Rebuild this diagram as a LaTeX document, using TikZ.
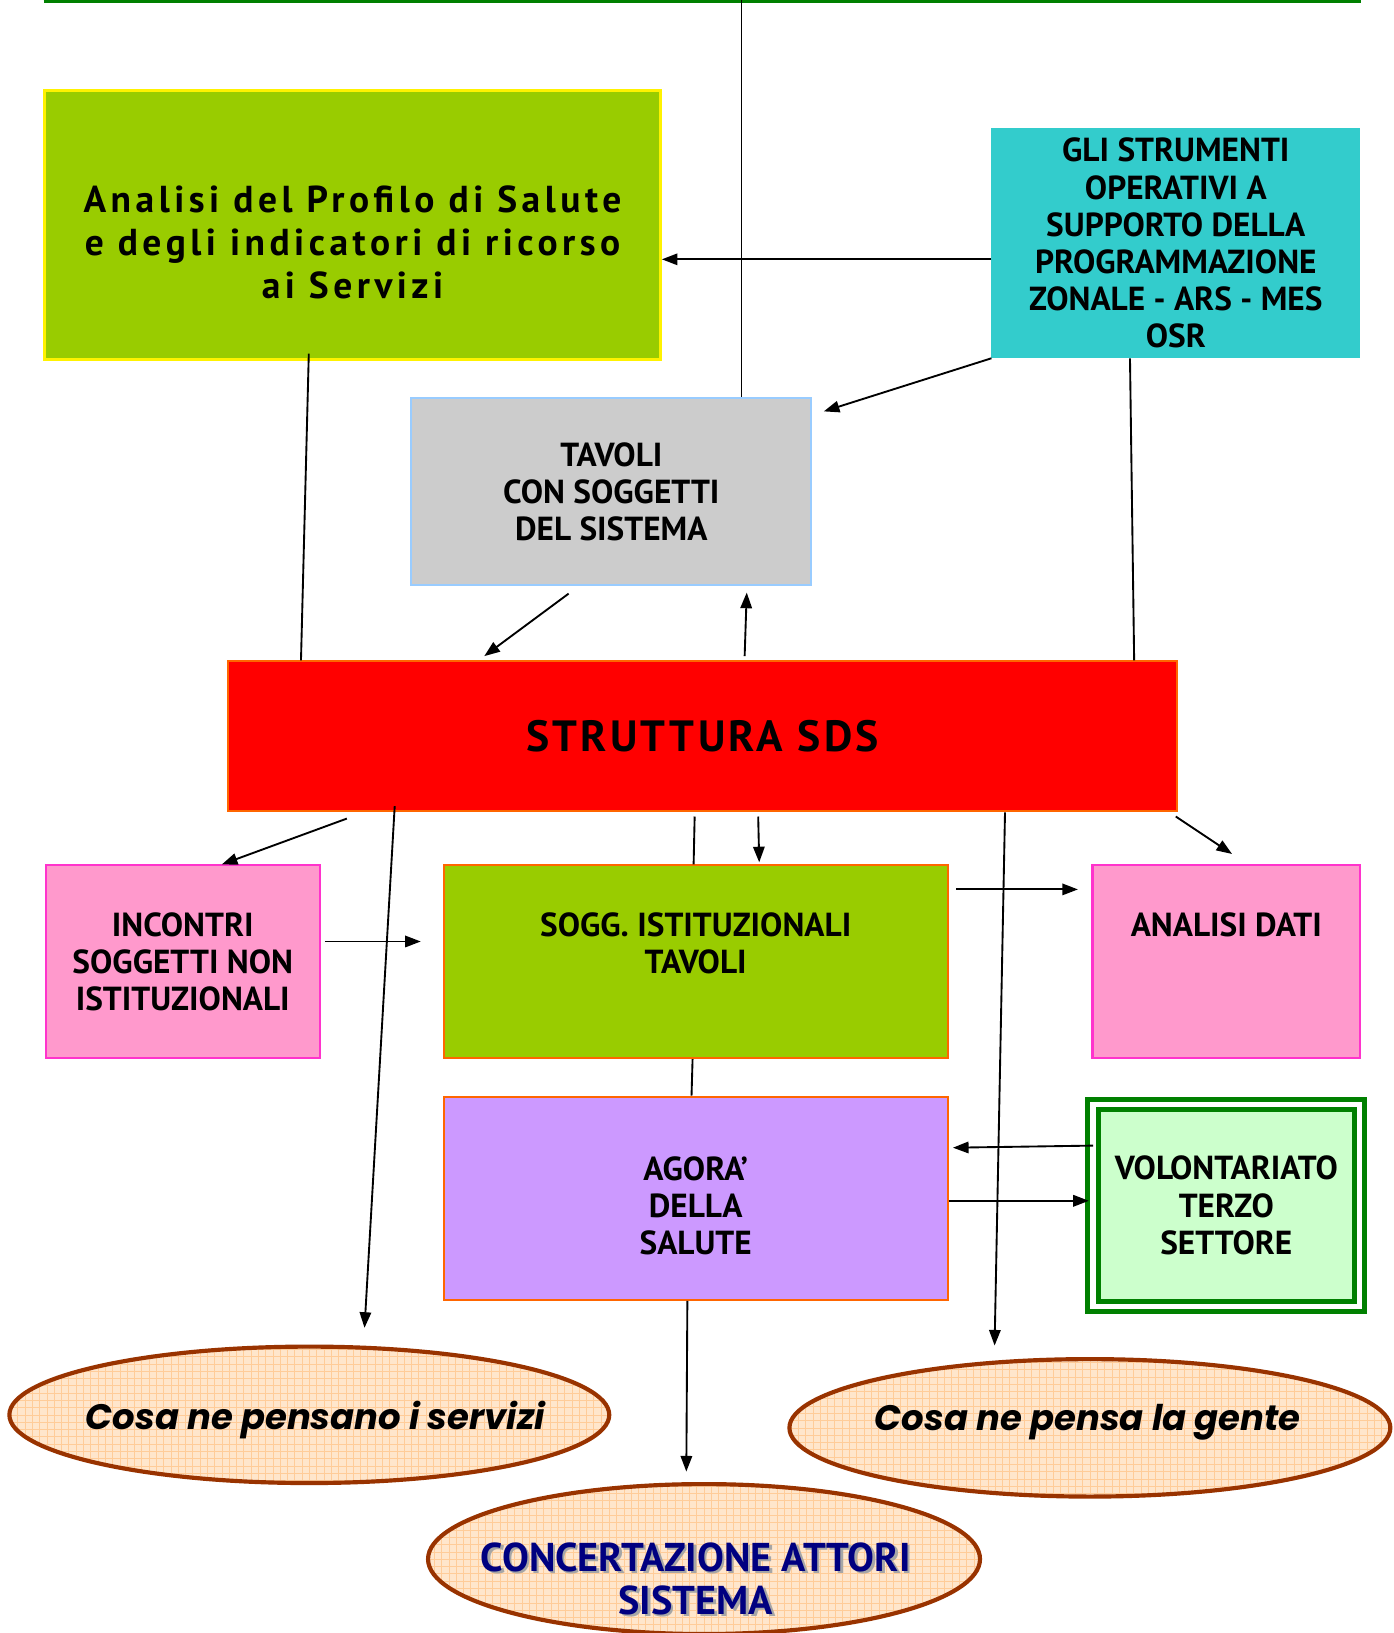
\documentclass[tikz,border=0pt]{standalone}
\usepackage{fontspec}
\setmainfont{PT Sans}
\newfontfamily\widefont{PT Sans}[LetterSpace=12]
\newfontfamily\sdsfont{PT Sans}[LetterSpace=7.5]
\newfontfamily\ellfont{Poppins}
\usetikzlibrary{arrows.meta,shapes.geometric}

\definecolor{rulegreen}{HTML}{008000}
\definecolor{leafgreen}{HTML}{99CC00}
\definecolor{strumcyan}{HTML}{33CCCC}
\definecolor{tavgrey}{HTML}{CCCCCC}
\definecolor{tavblue}{HTML}{99CCFF}
\definecolor{sdsred}{HTML}{FF0000}
\definecolor{edgeorange}{HTML}{FF6600}
\definecolor{pinkfill}{HTML}{FF99CC}
\definecolor{pinkedge}{HTML}{FF33CC}
\definecolor{agoralilac}{HTML}{CC99FF}
\definecolor{volfill}{HTML}{CCFFCC}
\definecolor{peach}{HTML}{FFE6CC}
\definecolor{peachgrid}{HTML}{FFCC99}
\definecolor{brownedge}{HTML}{993300}
\definecolor{navytext}{HTML}{000080}

\newcommand\boxfont{\bfseries\fontsize{32}{35.7}\selectfont}
\newcommand\dropshadow[1]{\leavevmode\rlap{\hspace{2.5pt}\raisebox{-2.5pt}{\textcolor{gray!70}{#1}}}#1}

\tikzset{
  box/.style={rectangle, inner sep=0pt, align=center, line width=2pt, font=\boxfont},
  bubble/.style={ellipse, inner sep=0pt, fill=peach, draw=brownedge, line width=4pt,
    path picture={\draw[peachgrid, line width=0.5pt]
      (path picture bounding box.south west) grid[step=7pt] (path picture bounding box.north east);}},
  bubbletext/.style={font=\ellfont\bfseries\itshape\fontsize{34}{40}\selectfont},
  concerttext/.style={align=center, text=navytext, font=\bfseries\fontsize{38.6}{41}\selectfont},
}

\begin{document}
\begin{tikzpicture}[x=1pt,y=-1pt,>={Triangle[length=15pt,width=11pt]},line width=1.8pt]
\useasboundingbox (0,0) rectangle (1338,1568);

% top rule
\draw[rulegreen,line width=3pt] (42,1.5) -- (1307,1.5);
\coordinate (rulemid) at (712,0);

% boxes
\node[box,fill=leafgreen,draw=yellow,line width=3pt,minimum width=591pt,minimum height=258pt,
  font=\widefont\bfseries\fontsize{36}{41.5}\selectfont] (analisi) at (338.5,216)
  {\mbox{}\\[18pt]Analisi del Profilo di Salute\\e degli indicatori di ricorso\\ai Servizi};
\node[box,fill=strumcyan,draw=strumcyan,minimum width=352pt,minimum height=219pt] (strum) at (1129,233.5)
  {GLI STRUMENTI\\OPERATIVI A\\SUPPORTO DELLA\\PROGRAMMAZIONE\\ZONALE - ARS - MES\\OSR};
\node[box,fill=tavgrey,draw=tavblue,minimum width=384pt,minimum height=180pt] (tavoli) at (587,472)
  {TAVOLI\\CON SOGGETTI\\DEL SISTEMA};
\node[box,fill=sdsred,draw=edgeorange,minimum width=911pt,minimum height=144pt,
  font=\sdsfont\bfseries\fontsize{42}{48}\selectfont] (sds) at (674.5,707) {STRUTTURA SDS};
\node[box,fill=pinkfill,draw=pinkedge,minimum width=263pt,minimum height=185pt] (incontri) at (175.5,923.5)
  {INCONTRI\\SOGGETTI NON\\ISTITUZIONALI};
\node[box,fill=leafgreen,draw=edgeorange,minimum width=484pt,minimum height=185pt] (sogg) at (668,923.5)
  {SOGG. ISTITUZIONALI\\TAVOLI\\\mbox{}};
\node[box,fill=pinkfill,draw=pinkedge,minimum width=257pt,minimum height=185pt] (dati) at (1177.5,923.5)
  {ANALISI DATI\\\mbox{}\\\mbox{}};
\node[box,fill=agoralilac,draw=edgeorange,minimum width=484pt,minimum height=195pt] (agora) at (668,1150.5)
  {\mbox{}\\[1.3pt]AGORA’\\DELLA\\SALUTE};
\node[box,fill=volfill,draw=rulegreen,double=white,line width=5pt,double distance=5pt,
  minimum width=256pt,minimum height=194pt] (volont) at (1177.5,1157.5)
  {VOLONTARIATO\\TERZO\\SETTORE};

% ellipses
\node[bubble,minimum width=576pt,minimum height=131pt,
  label={[bubbletext,yshift=-5pt,xshift=6pt]center:Cosa ne pensano i servizi}] (servizi) at (297,1358.5) {};
\node[bubble,minimum width=577pt,minimum height=132pt,
  label={[bubbletext,yshift=5pt,xshift=-2pt]center:Cosa ne pensa la gente}] (gente) at (1046.5,1371) {};
\node[bubble,minimum width=530pt,minimum height=144pt] (concert) at (676,1497) {};
\node[concerttext] (concertlbl) at ([xshift=-8pt,yshift=-20pt]concert.center)
  {\dropshadow{CONCERTAZIONE ATTORI}\\\dropshadow{SISTEMA}};

% connectors
\draw (rulemid) -- (rulemid |- tavoli.north);
\draw[->] ([yshift=-15.5pt]strum.west) -- ([yshift=-15.5pt]strum.west -| analisi.east);
\draw[->] (strum.south west) -- ([xshift=11pt,yshift=-14pt]tavoli.north east);
\draw ([xshift=-44pt]strum.south) -- ([xshift=-42pt]sds.north east);
\draw ([xshift=-42pt,yshift=7pt]analisi.south) -- ([xshift=71pt]sds.north west);
\draw[->] ([xshift=-41pt,yshift=-7pt]tavoli.south) -- ([xshift=247pt,yshift=4pt]sds.north west);
\draw[->] ([xshift=40.5pt,yshift=4pt]sds.north) -- ([xshift=-63pt,yshift=-6pt]tavoli.south east);
\draw[->] ([xshift=115pt,yshift=-6pt]sds.south west) -- ([xshift=37.5pt]incontri.north);
\draw[->] ([xshift=161pt,yshift=6pt]sds.south west) -- ([xshift=53pt,yshift=16pt]servizi.north);
\draw ([xshift=-7.5pt,yshift=-4pt]sds.south) -- ([xshift=-2pt]sogg.north);
\draw[->] ([xshift=53.5pt,yshift=-4pt]sds.south) -- ([xshift=61pt,yshift=2pt]sogg.north);
\draw[->] ([xshift=290.5pt]sds.south) -- ([xshift=-91.5pt,yshift=11pt]gente.north);
\draw[->] ([xshift=-2pt,yshift=-4pt]sds.south east) -- ([xshift=5.5pt,yshift=10pt]dati.north);
\draw[->] ([xshift=4pt,yshift=19.5pt]incontri.east) -- ([xshift=-21pt,yshift=19.5pt]sogg.west);
\draw[->] ([xshift=7pt,yshift=69.5pt]sogg.east) -- ([xshift=-13pt,yshift=69.5pt]dati.west);
\draw ([xshift=-3pt]sogg.south) -- ([xshift=-4pt]agora.north);
\draw[->] ([xshift=2.5pt,yshift=57.5pt]volont.west) -- ([xshift=4pt,yshift=48.5pt]agora.east);
\draw[->] ([yshift=-2.5pt]agora.east) -- ([xshift=-1.5pt,yshift=4.5pt]volont.west);
\draw[->] ([xshift=-8pt]agora.south) -- ([xshift=-17pt,yshift=10pt]concert.north);
\end{tikzpicture}
\end{document}
